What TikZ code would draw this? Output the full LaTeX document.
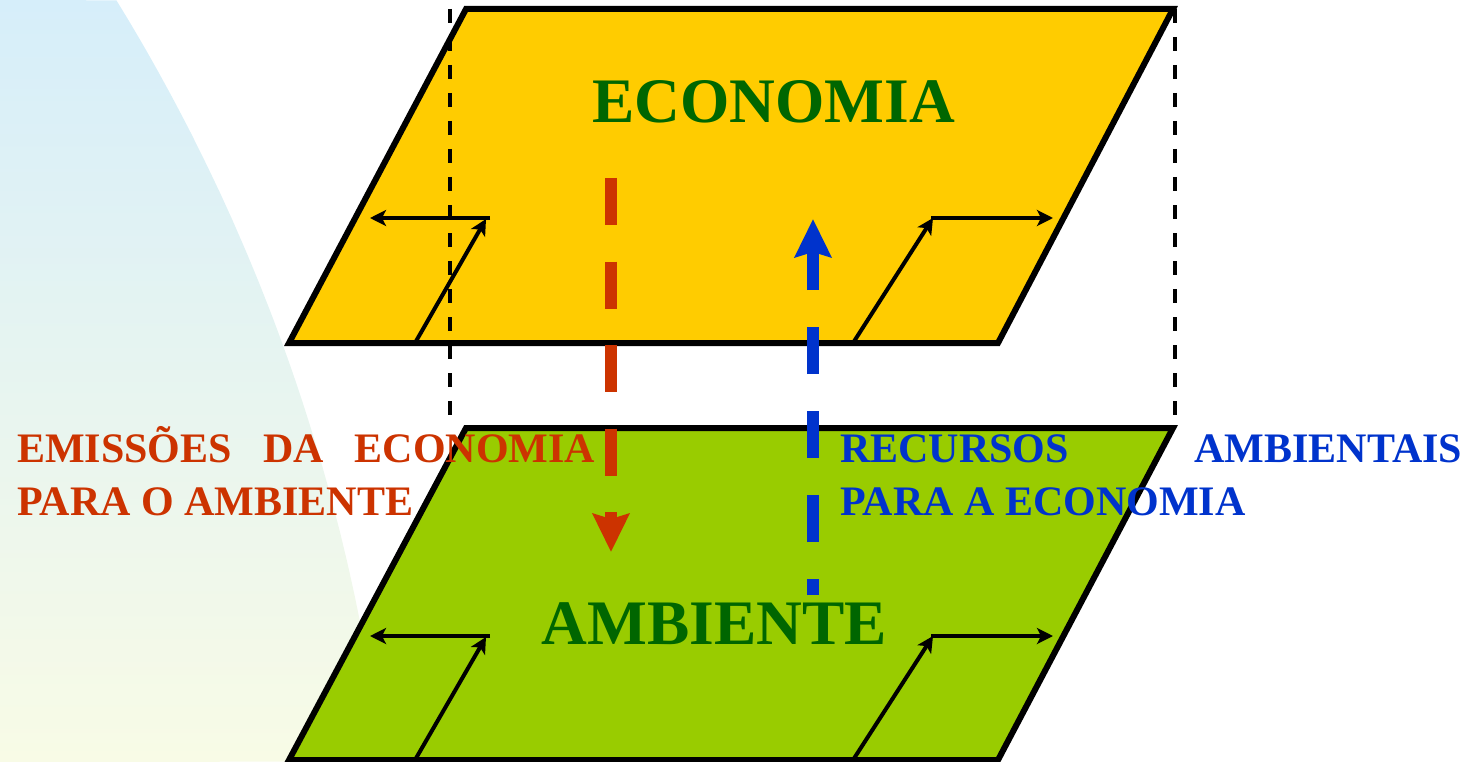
\documentclass[tikz,border=0pt]{standalone}
\usepackage{fontspec}
\setmainfont{Liberation Serif}
\usetikzlibrary{arrows.meta}
\definecolor{econ}{HTML}{FFCC00}
\definecolor{amb}{HTML}{99CC00}
\definecolor{dkgreen}{HTML}{006600}
\definecolor{emred}{HTML}{CC3300}
\definecolor{rcblue}{HTML}{0033CC}
\definecolor{bgtop}{RGB}{214,238,250}
\definecolor{bgbot}{RGB}{248,251,230}
\begin{document}
\begin{tikzpicture}[x=1pt,y=-1pt,
  planebox/.style={line width=6pt, draw=black, line join=miter},
  flowarrow/.style={line width=4pt, -{Stealth[length=16pt,width=16pt,inset=4pt]}},
  guideline/.style={line width=3.5pt, dash pattern=on 14pt off 14pt},
  bigarrow/.style={line width=12pt, -{Stealth[length=38pt,width=36pt,inset=5pt]}},
  headtext/.style={font=\fontsize{63.4}{70}\selectfont\bfseries, text=dkgreen, inner sep=0pt, anchor=base},
  lbltext/.style={font=\fontsize{42}{50}\selectfont\bfseries, inner sep=0pt, anchor=base west},
]
\useasboundingbox (0,0) rectangle (1474,762);
% background
\shade[top color=bgtop, bottom color=bgbot]
  (0,0) -- plot[domain=31.6:6.9, samples=60] ({-1489+1885*cos(\x)}, {988-1885*sin(\x)}) -- (0,762) -- cycle;
% planes
\draw[planebox, fill=econ] (466,9) -- (1173,9) -- (998,343) -- (289,343) -- cycle;
\draw[planebox, fill=amb] (466,428) -- (1173,428) -- (998,760) -- (289,760) -- cycle;
% guides
\coordinate (gl1) at (450,9);
\coordinate (gl2) at (450,418);
\coordinate (gr1) at (1175,9);
\coordinate (gr2) at (1175,418);
\draw[guideline] (gl1) -- (gl2);
\draw[guideline] (gr1) -- (gr2);
% small flow arrows, top plane
\coordinate (a1) at (415,343); \coordinate (a2) at (486,219);
\coordinate (a3) at (490,218); \coordinate (a4) at (370,218);
\coordinate (b1) at (853,343); \coordinate (b2) at (933,218);
\coordinate (b3) at (931,218); \coordinate (b4) at (1053,218);
\draw[flowarrow] (a1) -- (a2);
\draw[flowarrow] (a3) -- (a4);
\draw[flowarrow] (b1) -- (b2);
\draw[flowarrow] (b3) -- (b4);
% small flow arrows, bottom plane
\coordinate (c1) at (415,760); \coordinate (c2) at (486,637);
\coordinate (c3) at (490,636); \coordinate (c4) at (370,636);
\coordinate (d1) at (853,760); \coordinate (d2) at (933,636);
\coordinate (d3) at (931,636); \coordinate (d4) at (1053,636);
\draw[flowarrow] (c1) -- (c2);
\draw[flowarrow] (c3) -- (c4);
\draw[flowarrow] (d1) -- (d2);
\draw[flowarrow] (d3) -- (d4);
% big dashed arrows
\coordinate (r1) at (611,178); \coordinate (r2) at (611,552);
\coordinate (u1) at (813,595); \coordinate (u2) at (813,219);
\draw[bigarrow, emred, dash pattern=on 47pt off 36.5pt] (r1) -- (r2);
\draw[bigarrow, rcblue, dash pattern=on 47pt off 37pt, dash phase=31pt] (u1) -- (u2);
% texts
\node[headtext] (econtxt) at (773.5,123) {ECONOMIA};
\node[headtext] (ambtxt) at (714.5,644) {AMBIENTE};
\node[lbltext, text=emred] (em1) at (17,462) {\hbox to 578pt{EMISSÕES\hfill DA\hfill ECONOMIA}};
\node[lbltext, text=emred] (em2) at (17,515) {PARA O AMBIENTE};
\node[lbltext, text=rcblue] (rc1) at (840,462) {\hbox to 622pt{RECURSOS\hfill AMBIENTAIS}};
\node[lbltext, text=rcblue] (rc2) at (840,515) {PARA A ECONOMIA};
\end{tikzpicture}
\end{document}
